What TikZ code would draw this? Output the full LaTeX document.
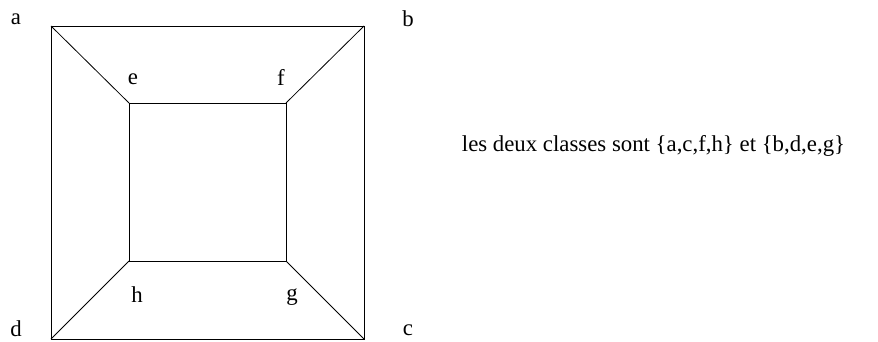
\documentclass[tikz,border=0pt]{standalone}
\usepackage{fontspec}
\setmainfont{Liberation Serif}
\begin{document}
\begin{tikzpicture}[x=1pt,y=-1pt,
  lbl/.style={font=\fontsize{22.8}{26}\selectfont, inner sep=0pt},
  edge/.style={draw=black, line width=0.8pt}]
\useasboundingbox (0,0) rectangle (878,341);
\coordinate (a) at (51,26);
\coordinate (b) at (364,26);
\coordinate (c) at (364,339);
\coordinate (d) at (51,339);
\coordinate (e) at (129,103);
\coordinate (f) at (286,103);
\coordinate (g) at (286,261);
\coordinate (h) at (129,261);
\draw[edge] (a) -- (b) -- (c) -- (d) -- cycle;
\draw[edge] (e) -- (f) -- (g) -- (h) -- cycle;
\draw[edge] (a) -- (e);
\draw[edge] (b) -- (f);
\draw[edge] (c) -- (g);
\draw[edge] (d) -- (h);
\node[lbl] (la) at (16,19) {a};
\node[lbl] (lb) at (408,19) {b};
\node[lbl] (lc) at (408,330) {c};
\node[lbl] (ld) at (16,328.5) {d};
\node[lbl] (le) at (133,79) {e};
\node[lbl] (lf) at (281,77) {f};
\node[lbl] (lg) at (292,297) {g};
\node[lbl] (lh) at (137,295) {h};
\node[lbl] (txt) at (653.5,146) {les deux classes sont \{a,c,f,h\} et \{b,d,e,g\}};
\end{tikzpicture}
\end{document}
